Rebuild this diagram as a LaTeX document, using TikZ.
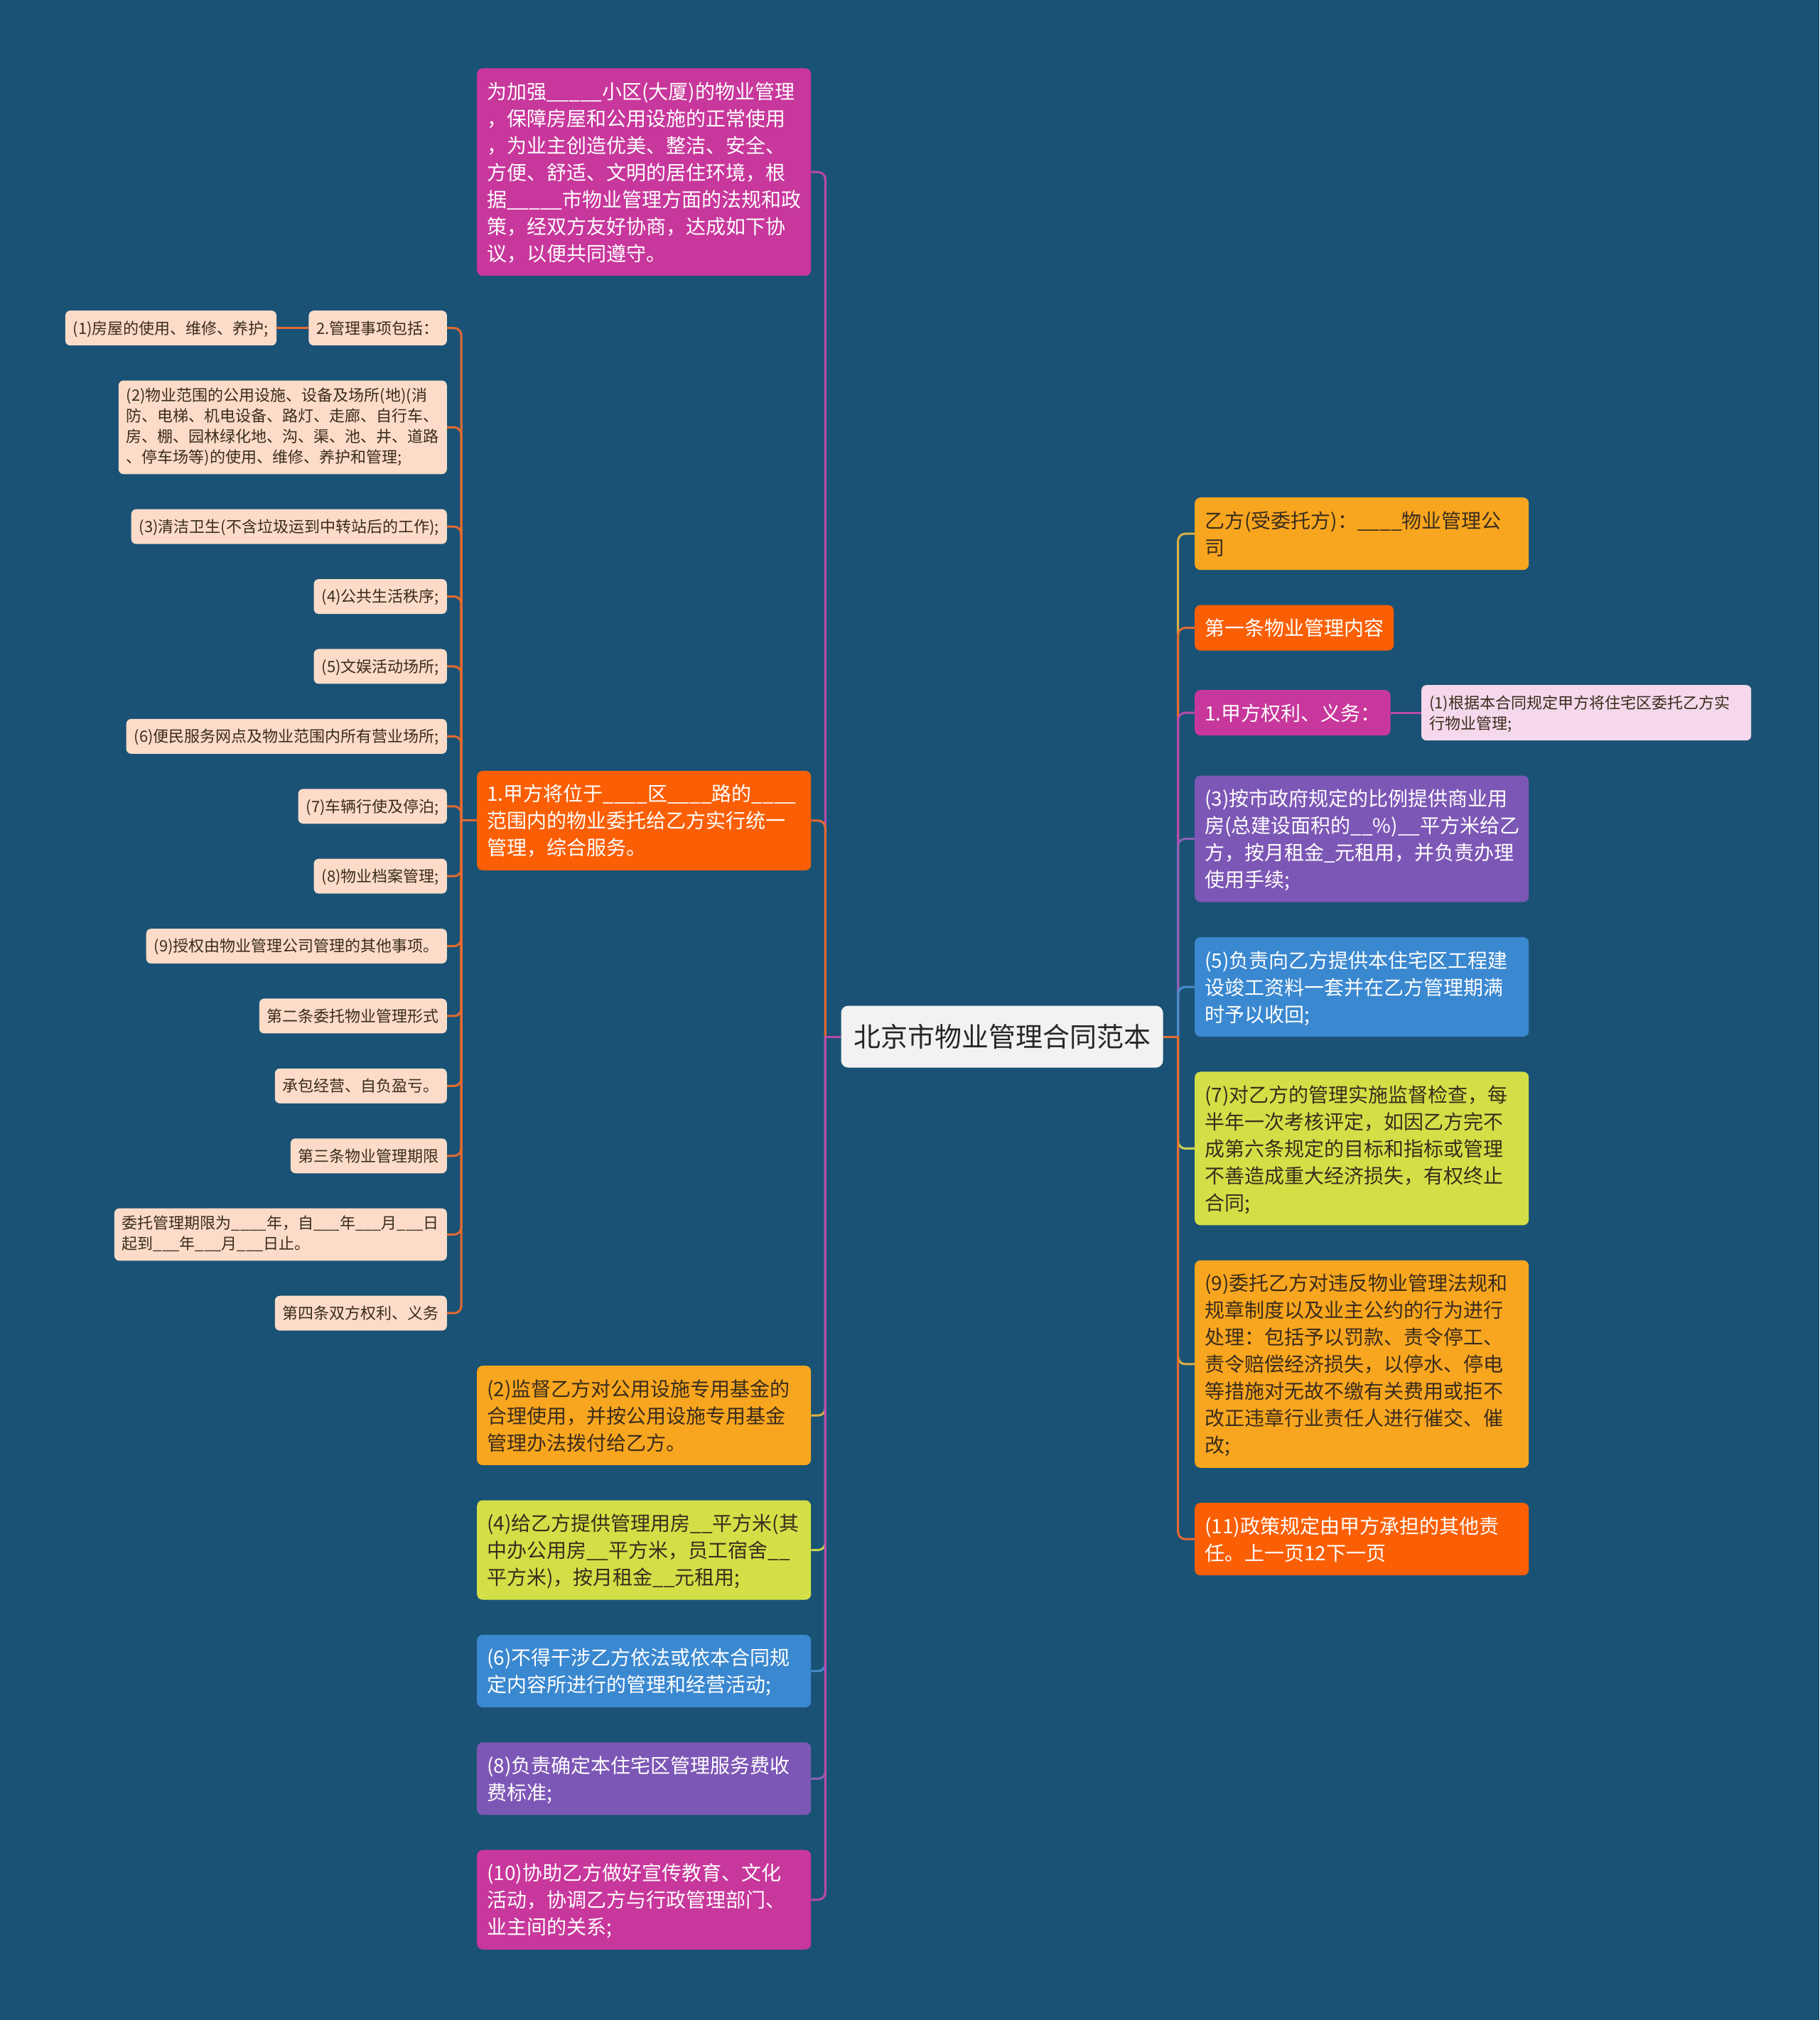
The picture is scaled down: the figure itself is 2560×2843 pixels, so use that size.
\documentclass[tikz,border=0pt]{standalone}
\usepackage{fontspec}
\setmainfont{Noto Sans CJK SC}
\usepackage{xcolor}
\usetikzlibrary{positioning,calc}
\setlength{\parindent}{0pt}
\newcommand{\mstrut}{\rule[-0.21\baselineskip]{0pt}{\baselineskip}}

\definecolor{bgblue}{HTML}{1A5275}
\definecolor{rootgray}{HTML}{F2F2F2}
\definecolor{pinkm}{HTML}{C8379B}
\definecolor{orangered}{HTML}{FB5F05}
\definecolor{amber}{HTML}{F8A61F}
\definecolor{lime}{HTML}{D3DF47}
\definecolor{blueb}{HTML}{3A88D0}
\definecolor{purp}{HTML}{7D57B6}
\definecolor{peach}{HTML}{FCDCC8}
\definecolor{lpink}{HTML}{F5D8EB}
\definecolor{darktext}{HTML}{3A2C1C}
\definecolor{lnorange}{HTML}{E46A30}
\definecolor{lnpink}{HTML}{B94AAB}
\definecolor{lnamber}{HTML}{DDB045}
\definecolor{lnlime}{HTML}{C9D44E}
\definecolor{lnblue}{HTML}{4A8CCF}
\definecolor{lnpurp}{HTML}{8A62B8}

\begin{document}
\begin{tikzpicture}[
    x=1pt, y=-1pt,
    rootbox/.style={rectangle, rounded corners=10pt, fill=rootgray, text=black!85,
        inner xsep=17.5pt, inner ysep=18.5pt, font=\fontsize{38}{50}\selectfont,
        execute at begin node=\mstrut},
    box/.style={rectangle, rounded corners=8pt, inner xsep=14pt, inner ysep=13pt,
        align=left, font=\fontsize{28}{38}\selectfont,
        execute at begin node=\mstrut, execute at end node=\mstrut},
    wide/.style={box, text width=442pt},
    leaf/.style={rectangle, rounded corners=7pt, fill=peach, text=darktext,
        inner xsep=11pt, inner ysep=10pt, align=left, font=\fontsize{22}{29}\selectfont,
        execute at begin node=\mstrut, execute at end node=\mstrut},
    link/.style={line width=3pt, rounded corners=10pt}
]
    \fill[bgblue] (0,0) rectangle (2560,2843);
    \useasboundingbox (0,0) rectangle (2560,2843);

    \node[rootbox] (root) at (1410,1459) {北京市物业管理合同范本};

    % right side
    \node[wide, fill=amber, text=darktext, anchor=north west] (r1) at (1681,700)
        {乙方(受委托方)：\_\_\_\_物业管理公\\司};
    \node[box, fill=orangered, text=white, below=49pt of r1.south west, anchor=north west] (r2)
        {第一条物业管理内容};
    \node[leaf, fill=lpink, text width=442pt, anchor=north west] (r3c) at (2000,964)
        {(1)根据本合同规定甲方将住宅区委托乙方实\\行物业管理;};
    \node[box, fill=pinkm, text=white, anchor=west] (r3) at (r3c.west -| r1.west)
        {1.甲方权利、义务：};
    \coordinate (r3b) at (r3c.south -| r1.west);
    \node[wide, fill=purp, text=white, below=49pt of r3b, anchor=north west] (r4)
        {(3)按市政府规定的比例提供商业用\\房(总建设面积的\_\_\%)\_\_平方米给乙\\方，按月租金\_元租用，并负责办理\\使用手续;};
    \node[wide, fill=blueb, text=white, below=49pt of r4.south west, anchor=north west] (r5)
        {(5)负责向乙方提供本住宅区工程建\\设竣工资料一套并在乙方管理期满\\时予以收回;};
    \node[wide, fill=lime, text=darktext, below=49pt of r5.south west, anchor=north west] (r6)
        {(7)对乙方的管理实施监督检查，每\\半年一次考核评定，如因乙方完不\\成第六条规定的目标和指标或管理\\不善造成重大经济损失，有权终止\\合同;};
    \node[wide, fill=amber, text=darktext, below=49pt of r6.south west, anchor=north west] (r7)
        {(9)委托乙方对违反物业管理法规和\\规章制度以及业主公约的行为进行\\处理：包括予以罚款、责令停工、\\责令赔偿经济损失，以停水、停电\\等措施对无故不缴有关费用或拒不\\改正违章行业责任人进行催交、催\\改;};
    \node[wide, fill=orangered, text=white, below=49pt of r7.south west, anchor=north west] (r8)
        {(11)政策规定由甲方承担的其他责\\任。上一页12下一页};

    % left side
    \node[wide, fill=pinkm, text=white, anchor=north west] (l1) at (671,96)
        {为加强\_\_\_\_\_小区(大厦)的物业管理\\，保障房屋和公用设施的正常使用\\，为业主创造优美、整洁、安全、\\方便、舒适、文明的居住环境，根\\据\_\_\_\_\_市物业管理方面的法规和政\\策，经双方友好协商，达成如下协\\议，以便共同遵守。};

    % items of 1.甲方将位于...
    \node[leaf, anchor=north east] (g0) at (629,437) {2.管理事项包括：};
    \node[leaf, left=45pt of g0] (g1) {(1)房屋的使用、维修、养护;};
    \node[leaf, below=49pt of g0.south east, anchor=north east] (g2)
        {(2)物业范围的公用设施、设备及场所(地)(消\\防、电梯、机电设备、路灯、走廊、自行车、\\房、棚、园林绿化地、沟、渠、池、井、道路\\、停车场等)的使用、维修、养护和管理;};
    \node[leaf, below=49pt of g2.south east, anchor=north east] (g3) {(3)清洁卫生(不含垃圾运到中转站后的工作);};
    \node[leaf, below=49pt of g3.south east, anchor=north east] (g4) {(4)公共生活秩序;};
    \node[leaf, below=49pt of g4.south east, anchor=north east] (g5) {(5)文娱活动场所;};
    \node[leaf, below=49pt of g5.south east, anchor=north east] (g6) {(6)便民服务网点及物业范围内所有营业场所;};
    \node[leaf, below=49pt of g6.south east, anchor=north east] (g7) {(7)车辆行使及停泊;};
    \node[leaf, below=49pt of g7.south east, anchor=north east] (g8) {(8)物业档案管理;};
    \node[leaf, below=49pt of g8.south east, anchor=north east] (g9) {(9)授权由物业管理公司管理的其他事项。};
    \node[leaf, below=49pt of g9.south east, anchor=north east] (g10) {第二条委托物业管理形式};
    \node[leaf, below=49pt of g10.south east, anchor=north east] (g11) {承包经营、自负盈亏。};
    \node[leaf, below=49pt of g11.south east, anchor=north east] (g12) {第三条物业管理期限};
    \node[leaf, below=49pt of g12.south east, anchor=north east] (g13)
        {委托管理期限为\_\_\_\_年，自\_\_\_年\_\_\_月\_\_\_日\\起到\_\_\_年\_\_\_月\_\_\_日止。};
    \node[leaf, below=49pt of g13.south east, anchor=north east] (g14) {第四条双方权利、义务};

    \coordinate (gm) at ($(g0.north)!0.5!(g14.south)$);
    \node[wide, fill=orangered, text=white, anchor=west] (l2) at (gm -| l1.west)
        {1.甲方将位于\_\_\_\_区\_\_\_\_路的\_\_\_\_\\范围内的物业委托给乙方实行统一\\管理，综合服务。};
    \coordinate (gb) at (g14.south -| l1.west);
    \node[wide, fill=amber, text=darktext, below=49pt of gb, anchor=north west] (l3)
        {(2)监督乙方对公用设施专用基金的\\合理使用，并按公用设施专用基金\\管理办法拨付给乙方。};
    \node[wide, fill=lime, text=darktext, below=49pt of l3.south west, anchor=north west] (l4)
        {(4)给乙方提供管理用房\_\_平方米(其\\中办公用房\_\_平方米，员工宿舍\_\_\\平方米)，按月租金\_\_元租用;};
    \node[wide, fill=blueb, text=white, below=49pt of l4.south west, anchor=north west] (l5)
        {(6)不得干涉乙方依法或依本合同规\\定内容所进行的管理和经营活动;};
    \node[wide, fill=purp, text=white, below=49pt of l5.south west, anchor=north west] (l6)
        {(8)负责确定本住宅区管理服务费收\\费标准;};
    \node[wide, fill=pinkm, text=white, below=49pt of l6.south west, anchor=north west] (l7)
        {(10)协助乙方做好宣传教育、文化\\活动，协调乙方与行政管理部门、\\业主间的关系;};

    % connectors, right
    \coordinate (sR) at ($(root.east)+(21,0)$);
    \draw[link, lnamber] (sR) |- (r1.west);
    \draw[link, lnorange] (sR) |- (r2.west);
    \draw[link, lnpink] (sR) |- (r3.west);
    \draw[link, lnpurp] (sR) |- (r4.west);
    \draw[link, lnblue] (sR) |- (r5.west);
    \draw[link, lnlime] (sR) |- (r6.west);
    \draw[link, lnamber] (sR) |- (r7.west);
    \draw[link, lnorange] (sR) |- (r8.west);
    \draw[link, lnorange] (root.east) -- (sR);
    \draw[link, lnpink] (r3.east) -- (r3c.west);

    % connectors, left
    \coordinate (sL) at ($(root.west)+(-22,0)$);
    \draw[link, lnpink] (sL) |- (l1.east);
    \draw[link, lnorange] (sL) |- (l2.east);
    \draw[link, lnamber] (sL) |- (l3.east);
    \draw[link, lnlime] (sL) |- (l4.east);
    \draw[link, lnblue] (sL) |- (l5.east);
    \draw[link, lnpurp] (sL) |- (l6.east);
    \draw[link, lnpink] (sL) |- (l7.east);
    \draw[link, lnpink] (root.west) -- (sL);

    % connectors, items
    \coordinate (sM) at ($(l2.west)+(-22,0)$);
    \draw[link, lnorange] (sM) |- (g0.east);
    \draw[link, lnorange] (sM) |- (g2.east);
    \draw[link, lnorange] (sM) |- (g3.east);
    \draw[link, lnorange] (sM) |- (g4.east);
    \draw[link, lnorange] (sM) |- (g5.east);
    \draw[link, lnorange] (sM) |- (g6.east);
    \draw[link, lnorange] (sM) |- (g7.east);
    \draw[link, lnorange] (sM) |- (g8.east);
    \draw[link, lnorange] (sM) |- (g9.east);
    \draw[link, lnorange] (sM) |- (g10.east);
    \draw[link, lnorange] (sM) |- (g11.east);
    \draw[link, lnorange] (sM) |- (g12.east);
    \draw[link, lnorange] (sM) |- (g13.east);
    \draw[link, lnorange] (sM) |- (g14.east);
    \draw[link, lnorange] (l2.west) -- (sM);
    \draw[link, lnorange] (g0.west) -- (g1.east);
\end{tikzpicture}
\end{document}
